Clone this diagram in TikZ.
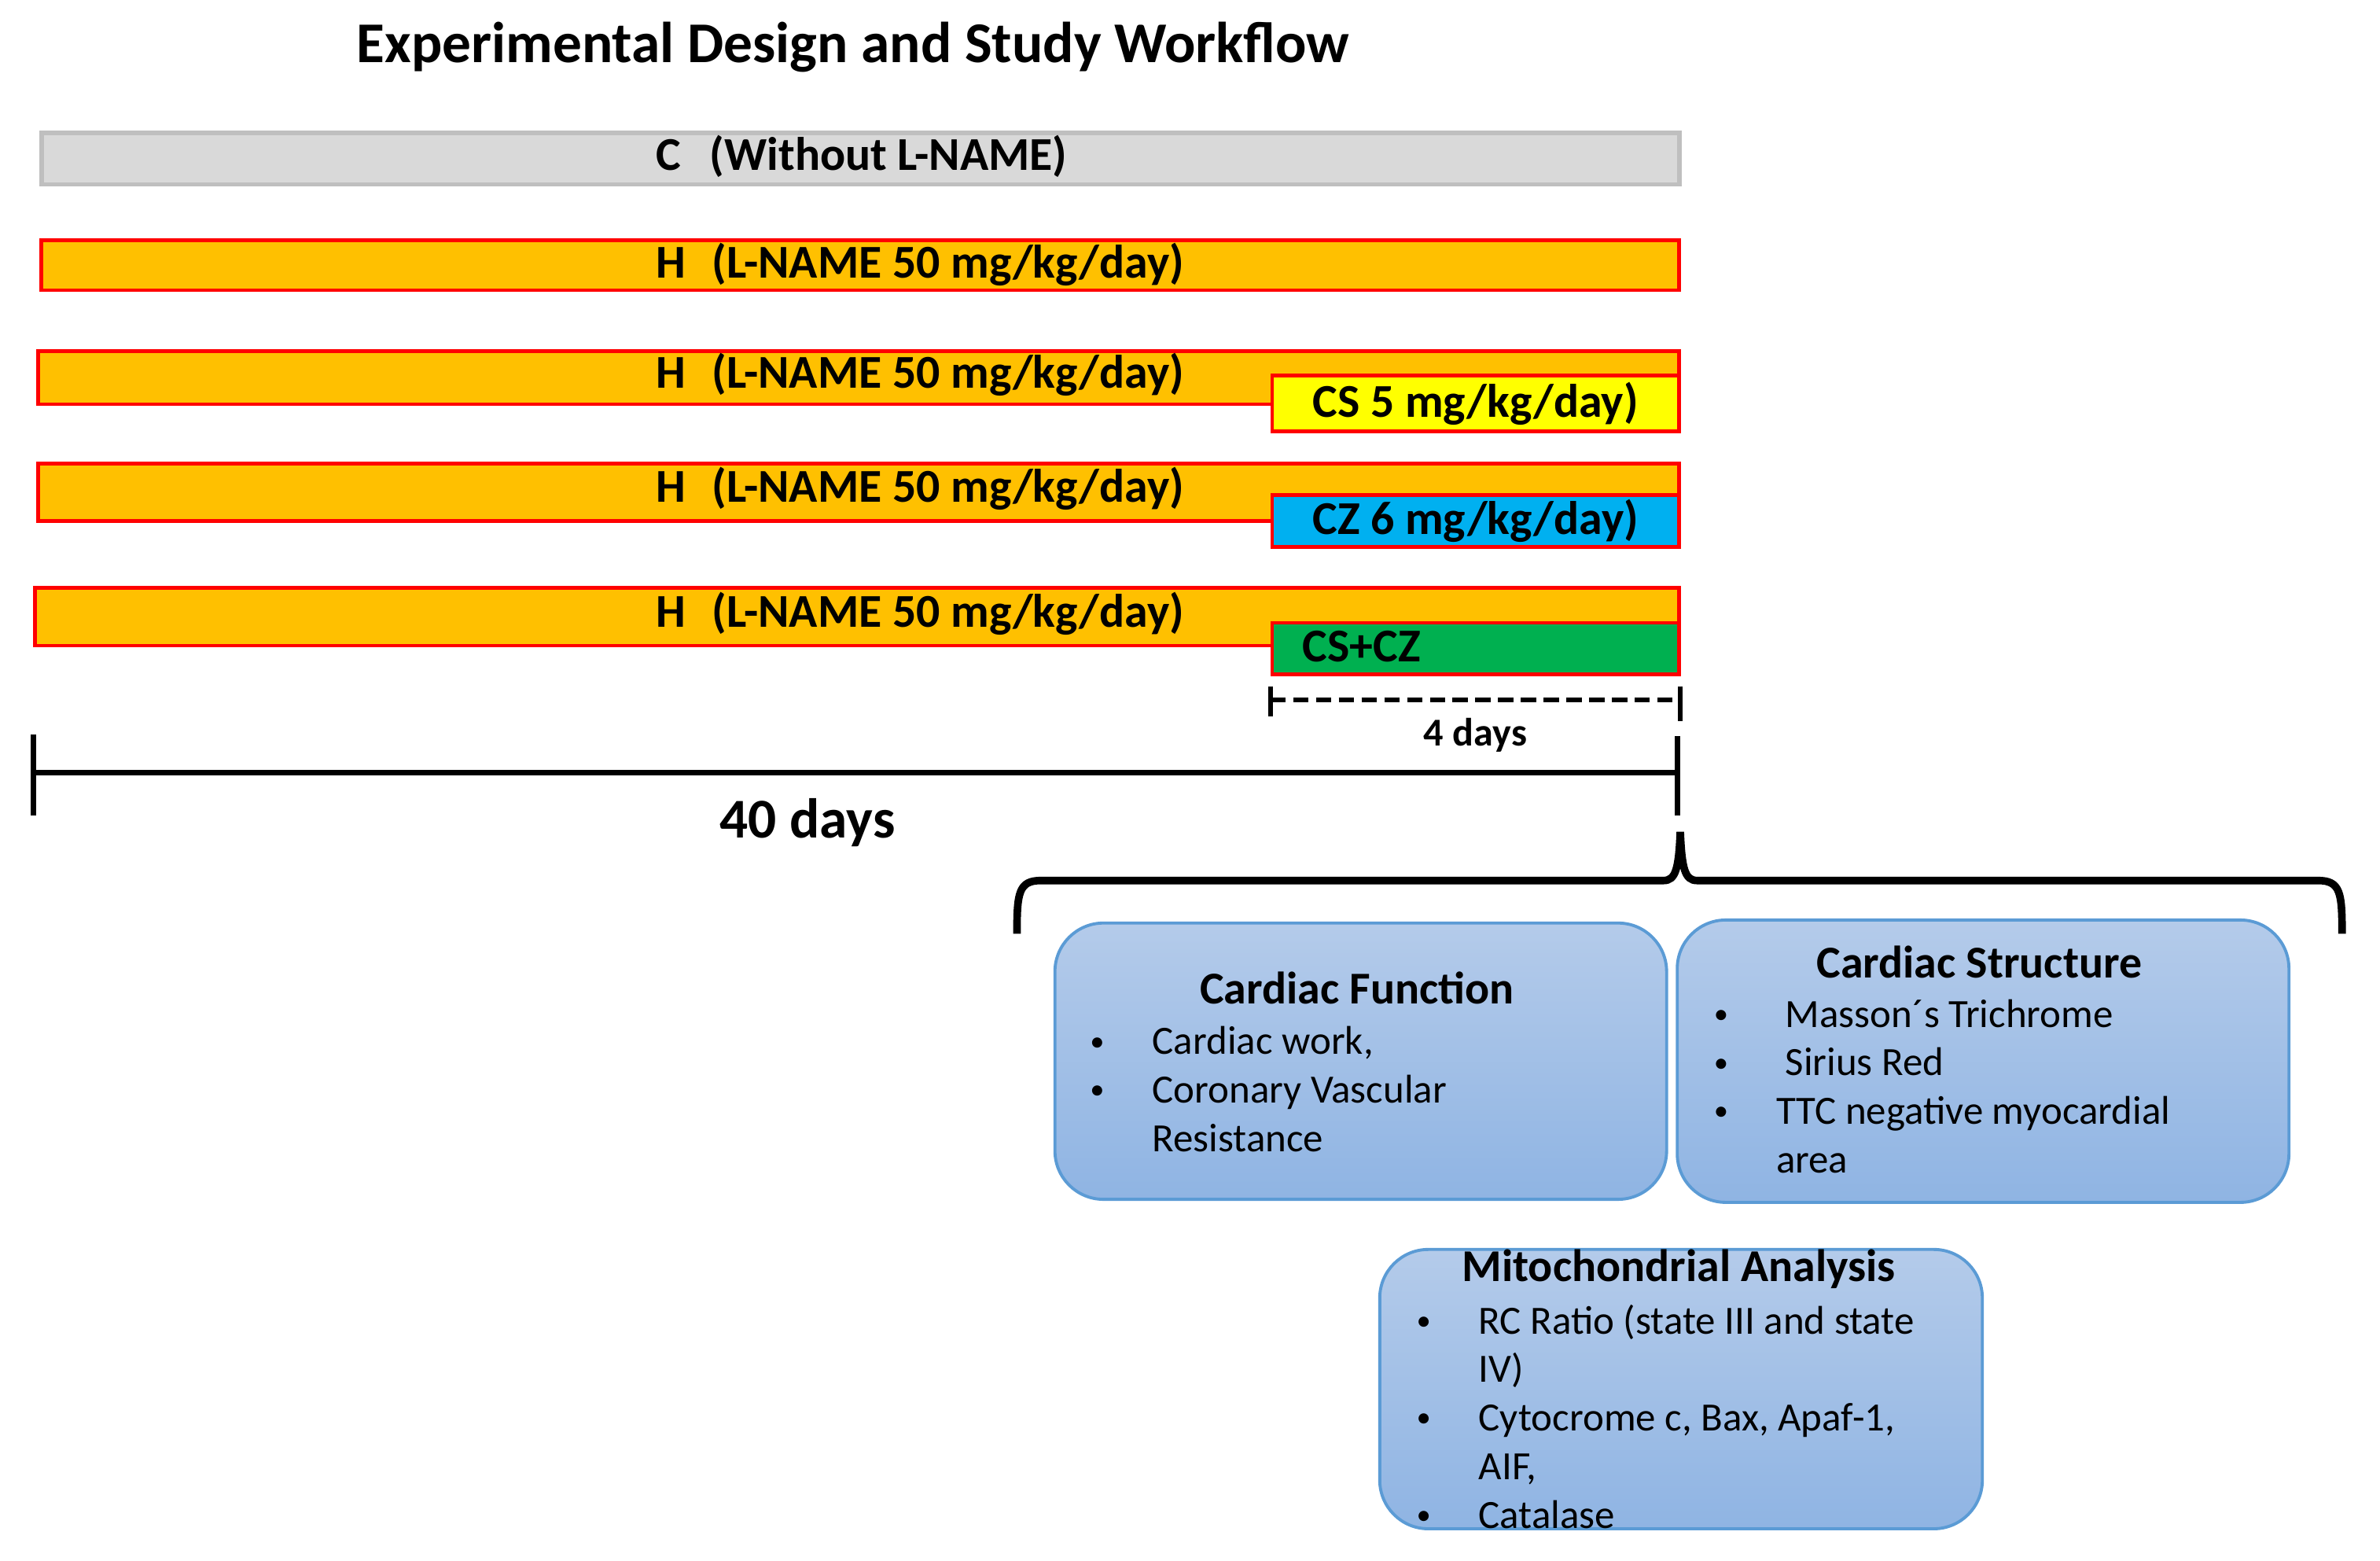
\documentclass[tikz,border=0pt]{standalone}
\usepackage{fontspec}
\setmainfont{Carlito}
\usepackage{tikz}
\usetikzlibrary{positioning, calc}
\definecolor{hbar}{HTML}{FFC000}
\definecolor{cbar}{HTML}{D9D9D9}
\definecolor{cline}{HTML}{BFBFBF}
\definecolor{csbar}{HTML}{FFFF00}
\definecolor{czbar}{HTML}{00B0F0}
\definecolor{mixbar}{HTML}{00B050}
\definecolor{boxtop}{HTML}{B4CBEA}
\definecolor{boxbot}{HTML}{8FB4E3}
\definecolor{boxline}{HTML}{5B9BD5}
\newcommand{\itm}{\makebox[39pt][l]{\hspace{-2pt}\raisebox{2.5pt}{\fontsize{19}{20}\selectfont\textbullet}}}
\newcommand{\indentgap}{\hspace*{39pt}}

\begin{document}
\begin{tikzpicture}[
    x=1pt, y=-1pt,
    bar/.style={draw=red, line width=2.4pt, fill=hbar, anchor=north west, inner sep=0pt},
    ctrl/.style={bar, draw=cline, fill=cbar, line width=3pt},
    drug/.style={bar, font=\fontsize{31}{36}\selectfont\bfseries},
    lbl/.style={anchor=west, inner sep=0pt, font=\fontsize{31}{36}\selectfont\bfseries},
    scaleline/.style={line width=3.5pt},
    resultbox/.style={draw=boxline, line width=2pt, rounded corners=32pt, top color=boxtop, bottom color=boxbot, anchor=north west, inner sep=0pt},
    boxtitle/.style={anchor=base, inner sep=0pt, font=\fontsize{30}{36}\selectfont\bfseries},
    boxlist/.style={anchor=north west, inner sep=0pt, align=left, font=\fontsize{26.4}{32}\selectfont},
]
    \useasboundingbox (0,0) rectangle (1568,1028);

    % Title
    \node[font=\fontsize{38}{44}\selectfont\bfseries] (title) at (562,31) {Experimental Design and Study Workflow};

    % Group bars
    \node[ctrl, minimum width=1079pt, minimum height=34pt] (gc) at (26,86) {};
    \node[bar, minimum width=1079pt, minimum height=33pt] (gh1) at (26,157) {};
    \node[bar, minimum width=1081pt, minimum height=35pt] (gh2) at (24,230) {};
    \node[bar, minimum width=1081pt, minimum height=38pt] (gh3) at (24,304) {};
    \node[bar, minimum width=1083pt, minimum height=38pt] (gh4) at (22,386) {};

    % Treatment bars
    \node[drug, fill=csbar, minimum width=268pt, minimum height=37pt] (cs) at (837,246) {CS 5 mg/kg/day)};
    \node[drug, fill=czbar, minimum width=268pt, minimum height=34pt] (cz) at (837,325) {CZ 6 mg/kg/day)};
    \node[drug, fill=mixbar, minimum width=268pt, minimum height=34pt] (mix) at (837,409) {};
    \node[lbl] (mixlbl) at (858,426) {CS+CZ};

    % Bar labels
    \node[lbl] (lc) at (432,103) {C\hspace{19pt}(Without L-NAME)};
    \node[lbl] (lh1) at (432,174) {H\hspace{17.5pt}(L-NAME 50 mg/kg/day)};
    \node[lbl] (lh2) at (432,247) {H\hspace{17.5pt}(L-NAME 50 mg/kg/day)};
    \node[lbl] (lh3) at (432,322) {H\hspace{17.5pt}(L-NAME 50 mg/kg/day)};
    \node[lbl] (lh4) at (432,404) {H\hspace{17.5pt}(L-NAME 50 mg/kg/day)};

    % Treatment period
    \coordinate (d0) at (837,461);
    \coordinate (d1) at (1107,461);
    \draw[line width=3pt, dash pattern=on 10pt off 5pt] (d0) -- (d1);
    \draw[line width=3pt] ($(d0)+(0,-9)$) -- ($(d0)+(0,11)$);
    \draw[line width=3pt] ($(d1)+(0,-9)$) -- ($(d1)+(0,14)$);
    \node[font=\fontsize{26}{30}\selectfont\bfseries] (four) at (972,484) {4 days};

    % Whole study
    \coordinate (t0) at (22,509);
    \coordinate (t1) at (1105,509);
    \draw[scaleline] (t0) -- (t1);
    \draw[scaleline] ($(t0)+(0,-25)$) -- ($(t0)+(0,28)$);
    \draw[scaleline] ($(t1)+(0,-24)$) -- ($(t1)+(0,28)$);
    \node[font=\fontsize{37}{44}\selectfont\bfseries] (forty) at (532,542) {40 days};

    % Brace
    \coordinate (tip) at (1107,548);
    \draw[line width=5pt] (670,615) .. controls (670,588) and (671,580) .. (686,580) -- (1096,580)
        .. controls (1104,580) and (1106,572) .. (tip)
        .. controls (1108,572) and (1110,580) .. (1118,580) -- (1527,580)
        .. controls (1542,580) and (1543,588) .. (1543,615);

    % Analyses
    \node[resultbox, minimum width=403pt, minimum height=182pt] (func) at (694,607) {};
    \node[resultbox, minimum width=403pt, minimum height=186pt] (struct) at (1104,605) {};
    \node[resultbox, minimum width=397pt, minimum height=184pt] (mito) at (908,822) {};

    \node[boxtitle] (functitle) at (894,661) {Cardiac Function};
    \node[boxlist] (funclist) at (720,672) {\strut\itm Cardiac work,\\ \itm Coronary Vascular\\ \indentgap Resistance};

    \node[boxtitle] (structtitle) at (1304,644) {Cardiac Structure};
    \node[boxlist] (structlist) at (1131,654) {\strut\itm\hspace{6pt}Masson´s Trichrome\\ \itm\hspace{6pt}Sirius Red\\ \itm TTC negative myocardial\\ \indentgap area};

    \node[boxtitle] (mitotitle) at (1106,844) {Mitochondrial Analysis};
    \node[boxlist] (mitolist) at (935,856) {\strut\itm RC Ratio (state III and state\\ \indentgap IV)\\ \itm Cytocrome c, Bax, Apaf-1,\\ \indentgap AIF,\\ \itm Catalase};

\end{tikzpicture}
\end{document}
